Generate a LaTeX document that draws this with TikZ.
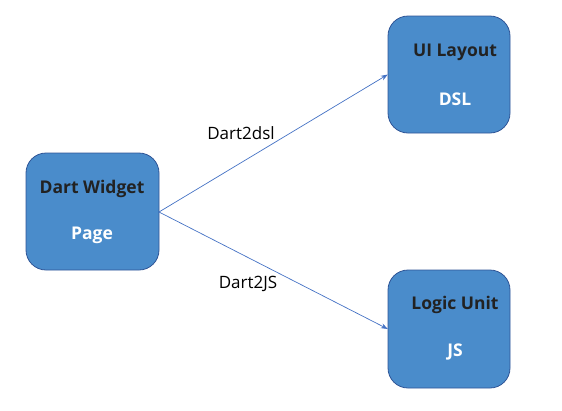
\documentclass[tikz,border=0pt]{standalone}
\usepackage{fontspec}
\setmainfont{Open Sans}
\usetikzlibrary{arrows.meta}
\definecolor{boxfill}{HTML}{4A8CCB}
\definecolor{boxdraw}{HTML}{2F5597}
\definecolor{arrowc}{HTML}{4472C4}
\definecolor{darktext}{HTML}{222222}
\tikzset{
  blk/.style={draw=boxdraw, line width=0.8pt, fill=boxfill, rounded corners=20pt},
  title/.style={font=\fontsize{17.5}{20}\selectfont\bfseries, text=darktext},
  sub/.style={font=\fontsize{17.5}{20}\selectfont\bfseries, text=white},
  lbl/.style={font=\fontsize{17}{20}\selectfont, text=black},
  conn/.style={draw=arrowc, line width=0.7pt, -{Stealth[length=7pt,width=5pt]}}
}
\begin{document}
\begin{tikzpicture}[x=1pt,y=-1pt]
\useasboundingbox (0,0) rectangle (562,410);
\draw[blk] (26,153) rectangle (159,270);
\node[inner sep=0pt, minimum width=133pt, minimum height=117pt] (dw) at (92.5,211.5) {};
\draw[blk] (388,16) rectangle (510,133);
\node[inner sep=0pt, minimum width=122pt, minimum height=117pt] (ui) at (449,74.5) {};
\draw[blk] (388,270) rectangle (510,388);
\node[inner sep=0pt, minimum width=122pt, minimum height=118pt] (lu) at (449,329) {};
\node[title] (t1) at (92,189) {Dart Widget};
\node[sub] (s1) at (92,235) {Page};
\node[title] (t2) at (455,52) {UI Layout};
\node[sub] (s2) at (455,99) {DSL};
\node[title] (t3) at (455,305) {Logic Unit};
\node[sub] (s3) at (455,352) {JS};
\coordinate (o) at (159,212);
\draw[conn] (o) -- (ui.west);
\draw[conn] (o) -- (lu.west);
\node[lbl] (l1) at (241,133) {Dart2dsl};
\node[lbl] (l2) at (248,284) {Dart2JS};
\end{tikzpicture}
\end{document}
